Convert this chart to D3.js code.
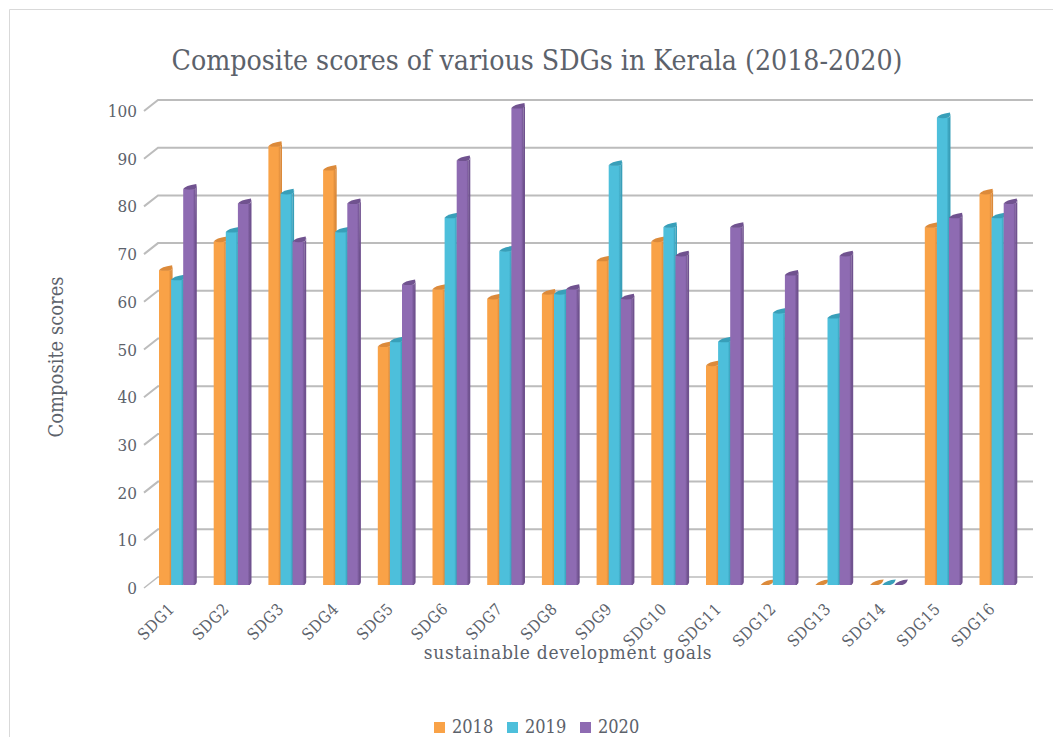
<!DOCTYPE html>
<html><head><meta charset="utf-8">
<script src="https://cdnjs.cloudflare.com/ajax/libs/d3/7.8.5/d3.min.js"></script>
<style>html,body{margin:0;padding:0;background:#fff}svg{display:block}</style>
</head><body><svg id="c" width="1053" height="737"></svg>
<script>
const categories=["SDG1","SDG2","SDG3","SDG4","SDG5","SDG6","SDG7","SDG8","SDG9","SDG10","SDG11","SDG12","SDG13","SDG14","SDG15","SDG16"];
const s2018=[66,72,92,87,50,62,60,61,68,72,46,0,0,0,75,82];
const s2019=[64,74,82,74,51,77,70,61,88,75,51,57,56,0,98,77];
const s2020=[83,80,72,80,63,89,100,62,60,69,75,65,69,0,77,80];
const seriesNames=["2018","2019","2020"];
const colors=["#f9a247","#4dbfdb","#8e6bb2"];
const dark=["#dc8a3a","#389fb9","#70528f"];
const yTicks=[0,10,20,30,40,50,60,70,80,90,100];
const FONT="'DejaVu Serif Condensed','DejaVu Serif',serif";
const TXT="#5c626b";
const svg=d3.select("#c");
const series=[s2018,s2019,s2020];
svg.append("path").attr("d","M9.5,737V9.5H1053").attr("fill","none").attr("stroke","#d9d9d9");
const y=d3.scaleLinear().domain([0,100]).range([585,108]);
const dy=-8;
const x0=d3.scaleBand().domain(categories).range([148.5,148.5+54.7*16]);
const xs=d3.scaleBand().domain(seriesNames).range([10.5,46.8]);
const g=svg.append("g");
yTicks.forEach(t=>{
 const yy=y(t)+dy;
 g.append("path").attr("d",`M144,${yy+11}L158,${yy}H1033`).attr("fill","none").attr("stroke","#bcbcbc").attr("stroke-width",t===0?1.5:2);
 g.append("text").attr("x",137).attr("y",y(t)+9).attr("text-anchor","end").attr("font-family",FONT).attr("font-size",17).attr("fill",TXT).text(t);
});
const defs=svg.append("defs");
colors.forEach((c,i)=>{
 const lg=defs.append("linearGradient").attr("id","g"+i).attr("x1",0).attr("x2",1);
 lg.append("stop").attr("offset",0).attr("stop-color",c);
 lg.append("stop").attr("offset",.8).attr("stop-color",c);
 lg.append("stop").attr("offset",1).attr("stop-color",dark[i]);
});
categories.forEach(cat=>{
 const ci=categories.indexOf(cat);
 series.forEach((ser,si)=>{
  const v=ser[ci], bx=x0(cat)+xs(seriesNames[si]), w=xs.bandwidth(), top=y(v), base=y(0);
  const gg=g.append("g");
  if(v>0){
   gg.append("path").attr("d",`M${bx+w},${top}Q${bx+w+1.5},${top-2} ${bx+w+1.5},${top-4}V${base-3}Q${bx+w+1.5},${base} ${bx+w-3},${base}Z`).attr("fill",dark[si]);
   gg.append("rect").attr("x",bx).attr("y",top).attr("width",w).attr("height",base-top).attr("fill",`url(#g${si})`);
   gg.append("path").attr("d",`M${bx},${top}Q${bx+2},${top-3.5} ${bx+w+1},${top-5}Q${bx+w+2},${top-2} ${bx+w},${top}Q${bx+w/2},${top+1.2} ${bx},${top}Z`).attr("fill",dark[si]);
  } else {
   gg.append("path").attr("d",`M${bx},${base}Q${bx+4},${base-5} ${bx+w+1.5},${base-5.5}Q${bx+w},${base-1} ${bx+w-4},${base}Z`).attr("fill",dark[si]);
  }
 });
 svg.append("text").attr("transform",`translate(${x0(cat)+27},${610}) rotate(-45)`).attr("text-anchor","end").attr("font-family",FONT).attr("font-size",16).attr("letter-spacing",0.5).attr("fill",TXT).text(cat);
});
svg.append("text").attr("x",537).attr("y",70).attr("text-anchor","middle").attr("font-family",FONT).attr("font-size",28.2).attr("fill",TXT).text("Composite scores of various SDGs in Kerala (2018-2020)");
svg.append("text").attr("x",568).attr("y",659).attr("text-anchor","middle").attr("font-family",FONT).attr("font-size",19).attr("letter-spacing",0.75).attr("fill",TXT).text("sustainable development goals");
svg.append("text").attr("transform","translate(63,357) rotate(-90)").attr("text-anchor","middle").attr("font-family",FONT).attr("font-size",20).attr("fill",TXT).text("Composite scores");
const lx=[434,507,580];
seriesNames.forEach((n,i)=>{
 svg.append("rect").attr("x",lx[i]).attr("y",722).attr("width",11).attr("height",11).attr("fill",colors[i]);
 svg.append("text").attr("x",lx[i]+18).attr("y",733).attr("font-family",FONT).attr("font-size",18).attr("fill",TXT).text(n);
});
</script></body></html>
